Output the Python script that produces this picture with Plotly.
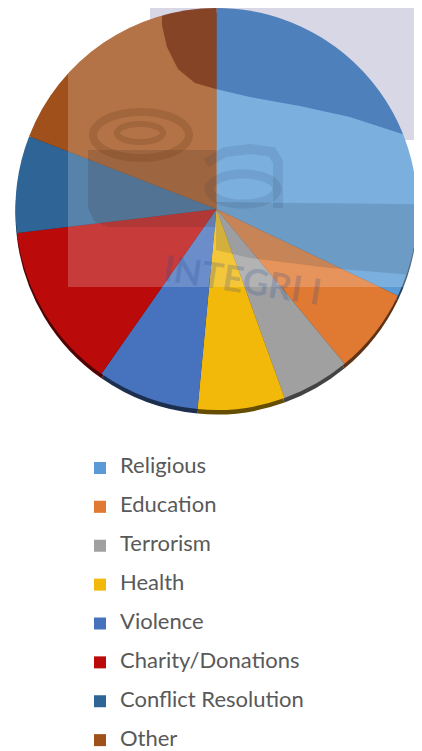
import numpy as np
import plotly.graph_objects as go

# ---- data (% of total) ----
categories = ["Religious", "Education", "Terrorism", "Health", "Violence",
              "Charity/Donations", "Conflict Resolution", "Other"]
shares = [32.1, 6.9, 5.5, 7.0, 8.2, 13.4, 7.8, 19.1]
slice_colors = ["#5B9BD5", "#E07A32", "#A0A0A0", "#F2B90A", "#4672BE",
                "#BB0A0A", "#2E6496", "#A0501A"]

W, H = 422, 751
PAGE_OFF = 8            # default body margin of the page
CX, CY, R = 216.5, 209.0, 201.0   # pie centre / radius in screen pixels


def px(x):
    return (x - PAGE_OFF) / W


def py(y):
    return 1 - (y - PAGE_OFF) / H


def clamp(v):
    return min(1.0, max(0.0, v))


def darker(hexcol, f=0.42):
    h = hexcol.lstrip("#")
    r, g, b = (int(h[i:i + 2], 16) for i in (0, 2, 4))
    return "rgb(%d,%d,%d)" % (r * f, g * f, b * f)


def path_from(points):
    s = "M " + " L ".join("%.5f,%.5f" % (px(x), py(y)) for x, y in points)
    return s + " Z"


def arc(a0, a1, n=40):
    """points on the pie rim, angles in degrees clockwise from 12 o'clock"""
    t = np.radians(np.linspace(a0, a1, n))
    return list(zip(CX + R * np.sin(t), CY - R * np.cos(t)))


def ellipse_path(cx, cy, rx, ry, n=60):
    t = np.linspace(0, 2 * np.pi, n, endpoint=False)
    return path_from(list(zip(cx + rx * np.cos(t), cy + ry * np.sin(t))))


legend_labels = ["<span style='font-size:22px'>%s</span><br>\u00a0" % c for c in categories]

fig = go.Figure()

# depth / rim of the 3-D pie
off = 4.5
fig.add_trace(go.Pie(
    labels=legend_labels, values=shares, sort=False, direction="clockwise", rotation=0,
    marker=dict(colors=[darker(c) for c in slice_colors], line=dict(width=0)),
    textinfo="none", hoverinfo="skip", showlegend=False,
    domain=dict(x=[clamp(px(CX - R)), clamp(px(CX + R))],
                y=[clamp(py(CY + R + off)), clamp(py(CY - R + off))]),
))

fig.add_trace(go.Pie(
    labels=legend_labels, values=shares, sort=False, direction="clockwise", rotation=0,
    marker=dict(colors=slice_colors, line=dict(width=0)),
    textinfo="none", hovertemplate="%{value}%<extra></extra>",
    domain=dict(x=[clamp(px(CX - R)), clamp(px(CX + R))],
                y=[clamp(py(CY + R)), clamp(py(CY - R))]),
))

shapes = []


def add_fill(path, color, layer="above", **kw):
    shapes.append(dict(type="path", layer=layer, xref="paper", yref="paper", path=path,
                       fillcolor=color, line=dict(width=0), **kw))


def add_stroke(path, color, width):
    shapes.append(dict(type="path", layer="above", xref="paper", yref="paper", path=path,
                       fillcolor="rgba(0,0,0,0)", line=dict(color=color, width=width)))


# lavender watermark background (top right, behind the pie)
add_fill(path_from([(150, 8), (430, 8), (430, 140), (405, 140), (300, 60), (150, 30)]),
         "#CECEDF", layer="below")

# dark swoosh region over the pie top (clipped to pie rim)
dark_pts = arc(-15.7, 68.2) + [(350, 117), (300, 106), (250, 97), (216, 89),
                                (195, 83), (178, 69), (167, 47), (162, 25)]
# light translucent rectangle minus the dark swoosh
rect = [(68, 8), (430, 8), (430, 287), (68, 287)]
add_fill(path_from(rect) + " " + path_from(dark_pts), "rgba(255,255,255,0.2)", fillrule="evenodd")
add_fill(path_from(dark_pts), "rgba(30,20,90,0.2)")

# logo body (rounded scroll)
body = [(88, 150), (216, 150), (216, 227), (108, 227), (94, 221), (88, 208)]
add_fill(path_from(body), "rgba(60,40,30,0.17)")
# spiral of the logo
add_stroke(ellipse_path(141, 135, 48, 23), "rgba(90,45,10,0.18)", 8)
add_stroke(ellipse_path(140, 133, 23, 9), "rgba(90,45,10,0.18)", 6)
# the "a" of the logo
add_stroke(path_from([(206, 163), (225, 152), (250, 149), (272, 152), (278, 162),
                      (278, 208), (278, 162), (272, 152), (250, 149), (225, 152)]),
           "rgba(30,50,80,0.11)", 10)
add_stroke(ellipse_path(243, 189, 34, 15), "rgba(30,50,80,0.11)", 9)

# lower stripe of the logo (clipped on the right by the rim)
band = [(216, 202), (300, 203), (400, 204)] + arc(88.7, 109.0, 12) + \
       [(330, 268), (250, 258), (216, 250)]
add_fill(path_from(band), "rgba(30,40,60,0.15)")

fig.update_layout(
    width=W, height=H, margin=dict(l=0, r=0, t=0, b=0, autoexpand=False),
    paper_bgcolor="white", plot_bgcolor="white",
    shapes=shapes,
    annotations=[dict(text="<b>INTEGRI I</b>", x=px(328), y=py(242), xref="paper", yref="paper",
                      showarrow=False, textangle=9,
                      font=dict(family="Lato", size=36, color="rgba(40,70,140,0.22)"))],
    legend=dict(orientation="v", x=px(80), xanchor="left", y=py(452.5), yanchor="top",
                valign="top", bgcolor="rgba(0,0,0,0)", borderwidth=0,
                font=dict(family="Lato", size=13.8, color="#595959")),
)

fig.write_html("out.html")
